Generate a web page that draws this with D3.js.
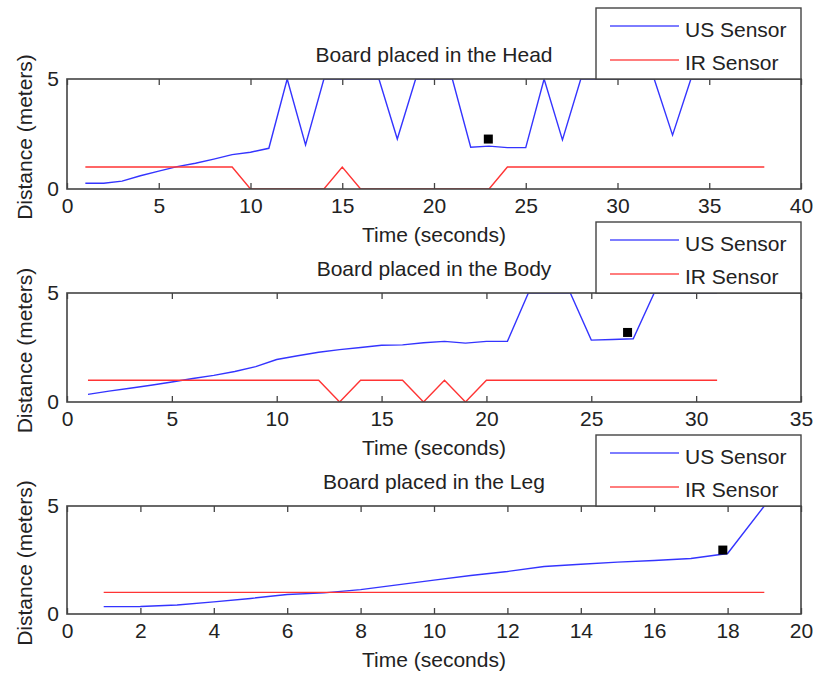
<!DOCTYPE html>
<html>
<head>
<meta charset="utf-8">
<script src="https://cdn.jsdelivr.net/npm/d3@7"></script>
<style>
  body { margin: 0; background: #fff; }
  svg text { font-family: "Liberation Sans", Arial, sans-serif; fill: #222; }
</style>
</head>
<body>
<script>
// Head
const headTime = [1,2,3,4,5,6,7,8,9,10,11,12,13,14,15,16,17,18,19,20,21,22,23,24,25,26,27,28,29,30,31,32,33,34,35,36,37,38];
const headUS = [0.26,0.26,0.36,0.6,0.81,1.02,1.17,1.36,1.56,1.67,1.85,5,2.0,5,5,5,5,2.27,5,5,5,1.9,1.95,1.88,1.88,5,2.23,5,5,5,5,5,2.45,5,5,5,5,5];
const headIR = [1,1,1,1,1,1,1,1,1,0,0,0,0,0,1,0,0,0,0,0,0,0,0,1,1,1,1,1,1,1,1,1,1,1,1,1,1,1];
const headMark = [22.96, 2.27];
// Body
const bodyTime = [1,2,3,4,5,6,7,8,9,10,11,12,13,14,15,16,17,18,19,20,21,22,23,24,25,26,27,28,29,30,31];
const bodyUS = [0.35,0.5,0.63,0.77,0.92,1.08,1.22,1.4,1.62,1.95,2.12,2.28,2.4,2.5,2.6,2.62,2.72,2.78,2.7,2.78,2.78,5,5,5,2.84,2.87,2.9,5,5,5,5];
const bodyIR = [1,1,1,1,1,1,1,1,1,1,1,1,0,1,1,1,0,1,0,1,1,1,1,1,1,1,1,1,1,1,1];
const bodyMark = [26.73, 3.19];
// Leg
const legTime = [1,2,3,4,5,6,7,8,9,10,11,12,13,14,15,16,17,18,19];
const legUS = [0.34,0.35,0.42,0.56,0.72,0.9,0.98,1.13,1.35,1.57,1.78,1.97,2.2,2.3,2.4,2.48,2.57,2.8,5];
const legIR = [1,1,1,1,1,1,1,1,1,1,1,1,1,1,1,1,1,1,1];
const legMark = [17.87, 2.96];

const titles = ["Board placed in the Head", "Board placed in the Body", "Board placed in the Leg"];
const xMax = [40, 35, 20];
const xTicks = [[0,5,10,15,20,25,30,35,40], [0,5,10,15,20,25,30,35], [0,2,4,6,8,10,12,14,16,18,20]];
const yTicks = [0, 5];
const seriesNames = ["US Sensor", "IR Sensor"];

const panels = [
  { time: headTime, us: headUS, ir: headIR, mark: headMark },
  { time: bodyTime, us: bodyUS, ir: bodyIR, mark: bodyMark },
  { time: legTime, us: legUS, ir: legIR, mark: legMark }
];

const W = 814, H = 676;
const left = 67, right = 801;
const tops = [79, 293, 506];
const bottoms = [189, 402, 614];
const blue = "#3434ff", red = "#ff3434", boxColor = "#444";
const fs = 21;

const svg = d3.select("body").append("svg").attr("width", W).attr("height", H);

panels.forEach((p, i) => {
  const x = d3.scaleLinear().domain([0, xMax[i]]).range([left, right]);
  const y = d3.scaleLinear().domain([0, 5]).range([bottoms[i], tops[i]]);
  const g = svg.append("g");

  svg.append("clipPath").attr("id", "clip" + i)
    .append("rect")
    .attr("x", left).attr("y", tops[i])
    .attr("width", right - left).attr("height", bottoms[i] - tops[i]);

  const line = d3.line().x(d => x(d[0])).y(d => y(d[1]));
  const plot = g.append("g").attr("clip-path", `url(#clip${i})`);
  plot.append("path")
    .attr("d", line(p.time.map((t, k) => [t, p.us[k]])))
    .attr("fill", "none").attr("stroke", blue).attr("stroke-width", 1.4);
  plot.append("path")
    .attr("d", line(p.time.map((t, k) => [t, p.ir[k]])))
    .attr("fill", "none").attr("stroke", red).attr("stroke-width", 1.4);
  g.append("rect")
    .attr("x", x(p.mark[0]) - 4.5).attr("y", y(p.mark[1]) - 4.5)
    .attr("width", 9).attr("height", 9).attr("fill", "#000");

  // axes box with inward ticks
  const tickLen = 6;
  g.append("rect")
    .attr("x", left).attr("y", tops[i])
    .attr("width", right - left).attr("height", bottoms[i] - tops[i])
    .attr("fill", "none").attr("stroke", boxColor).attr("stroke-width", 1.6);
  const xb = d3.axisBottom(x).tickValues(xTicks[i]).tickSize(-tickLen).tickPadding(9).tickFormat(d3.format("d"));
  const ax = g.append("g").attr("transform", `translate(0,${bottoms[i]})`).call(xb);
  ax.select(".domain").remove();
  ax.selectAll("line").attr("stroke", boxColor).attr("stroke-width", 1.3);
  ax.selectAll("text").attr("font-size", fs).attr("fill", "#222").attr("font-family", "Liberation Sans, Arial, sans-serif");
  const xt = d3.axisTop(x).tickValues(xTicks[i]).tickSize(-tickLen).tickFormat("");
  const axt = g.append("g").attr("transform", `translate(0,${tops[i]})`).call(xt);
  axt.select(".domain").remove();
  axt.selectAll("line").attr("stroke", boxColor).attr("stroke-width", 1.3);

  const yl = d3.axisLeft(y).tickValues(yTicks).tickSize(0).tickPadding(8).tickFormat(d3.format("d"));
  const ay = g.append("g").attr("transform", `translate(${left},0)`).call(yl);
  ay.select(".domain").remove();
  ay.selectAll("text").attr("font-size", fs).attr("fill", "#222").attr("font-family", "Liberation Sans, Arial, sans-serif");

  // labels
  g.append("text").attr("x", (left + right) / 2).attr("y", tops[i] - 17)
    .attr("text-anchor", "middle").attr("font-size", fs).text(titles[i]);
  g.append("text").attr("x", (left + right) / 2).attr("y", bottoms[i] + 53)
    .attr("text-anchor", "middle").attr("font-size", fs).text("Time (seconds)");
  g.append("text")
    .attr("transform", `translate(32,${(tops[i] + bottoms[i]) / 2 + 3}) rotate(-90)`)
    .attr("text-anchor", "middle").attr("font-size", fs).text("Distance (meters)");

  // legend
  const lg = g.append("g").attr("transform", `translate(596,${tops[i] - 71})`);
  lg.append("rect").attr("width", right - 596).attr("height", 71)
    .attr("fill", "#fff").attr("stroke", boxColor).attr("stroke-width", 1.4);
  [blue, red].forEach((c, k) => {
    lg.append("line").attr("x1", 14).attr("x2", 83)
      .attr("y1", 18 + k * 34).attr("y2", 18 + k * 34)
      .attr("stroke", c).attr("stroke-width", 1.6).attr("opacity", 0.85);
    lg.append("text").attr("x", 89).attr("y", 28.5 + k * 33.5)
      .attr("font-size", fs).text(seriesNames[k]);
  });
});
</script>
</body>
</html>
